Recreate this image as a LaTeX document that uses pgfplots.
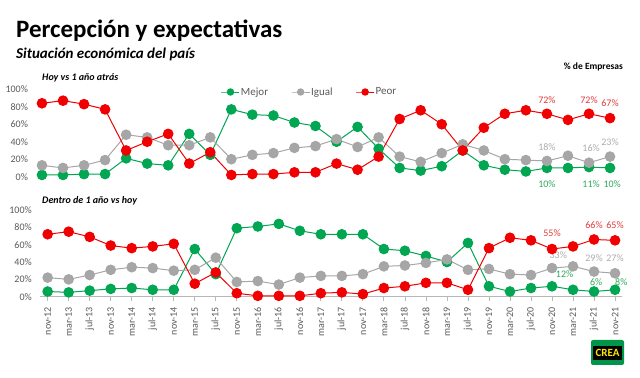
\documentclass[border=0pt]{standalone}
\usepackage{fontspec}
\setmainfont{Carlito}
\usepackage{pgfplots}
\pgfplotsset{compat=1.18}
\usepackage{pgfplotstable}
\definecolor{cgreen}{HTML}{00A651}
\definecolor{cred}{HTML}{F00000}
\definecolor{cgray}{HTML}{A6A6A6}
\definecolor{ctick}{HTML}{595959}
\definecolor{lgreen}{HTML}{2EAA5C}
\definecolor{lred}{HTML}{E03A3A}
\definecolor{lgray}{HTML}{ABABAB}

\pgfplotstableread{
x mejor igual peor
0 2 13 84
1 2 10 87
2 3 13 83
3 3 19 77
4 21 48 30
5 15 45 40
6 13 36 49
7 49 36 15
8 25 45 28
9 77 20 2
10 71 25 3
11 70 27 3
12 62 33 5
13 58 35 5
14 40 43 15
15 57 34 8
16 32 45 23
17 10 23 66
18 7 17 76
19 12 27 60
20 30 37 30
21 13 30 56
22 8 20 72
23 6 19 76
24 10 18 72
25 10 24 65
26 11 16 72
27 10 23 67
}\toptable

\pgfplotstableread{
x mejor igual peor
0 6 22 72
1 5 20 75
2 7 25 69
3 9 31 59
4 10 34 56
5 8 33 58
6 8 30 61
7 55 31 15
8 26 45 28
9 79 17 4
10 81 18 1
11 84 14 1
12 76 22 1
13 72 24 4
14 72 24 5
15 72 26 3
16 55 35 10
17 53 36 12
18 47 39 16
19 40 43 16
20 62 31 8
21 12 32 56
22 6 26 68
23 10 25 65
24 12 33 55
25 8 35 58
26 6 29 66
27 8 27 65
}\bottable

\pgfplotsset{
  panel/.style={
    scale only axis,
    xmin=-0.35, xmax=27.35, ymin=0, ymax=100,
    ytick={0,20,...,100},
    yticklabels={0\%,20\%,40\%,60\%,80\%,100\%},
    tick label style={font=\fontsize{10bp}{12bp}\selectfont, text=ctick},
    clip=false,
    axis lines=left,
    axis line style={-},
    y axis line style={draw=none},
    ytick style={draw=none},
    yticklabel style={xshift=-1bp},
  },
  sm/.style={color=cgreen, line width=1bp, mark=*, mark size=4.8bp, mark options={solid}},
  si/.style={color=cgray, line width=1bp, mark=*, mark size=4.8bp, mark options={solid}},
  sp/.style={color=cred, line width=1bp, mark=*, mark size=4.8bp, mark options={solid}},
}
\tikzset{lbl/.style={font=\fontsize{10bp}{12bp}\selectfont, inner sep=0pt, anchor=center}}

\begin{document}
\begin{tikzpicture}
\useasboundingbox (0,0) rectangle (640bp,378bp);

\node[anchor=base west, inner sep=0, font=\fontsize{25bp}{30bp}\selectfont\bfseries] at (16bp,340.7bp) {Percepción y expectativas};
\node[anchor=base west, inner sep=0, font=\fontsize{15bp}{18bp}\selectfont\bfseries\itshape] at (16bp,319bp) {Situación económica del país};
\node[anchor=base east, inner sep=0, font=\fontsize{9.5bp}{11bp}\selectfont\bfseries] at (623bp,308bp) {\% de Empresas};
\node[anchor=base west, inner sep=0, font=\fontsize{10bp}{12bp}\selectfont\bfseries\itshape] at (42bp,297bp) {Hoy vs 1 año atrás};
\node[anchor=base west, inner sep=0, font=\fontsize{10bp}{12bp}\selectfont\bfseries\itshape] at (42bp,174bp) {Dentro de 1 año vs hoy};

\begin{axis}[panel,
  at={(34.6bp,201.3bp)}, anchor=south west,
  width=582.8bp, height=87.4bp,
  xtick=\empty,
  x axis line style={draw=none},
  legend style={at={(0.471,0.969)}, anchor=center, draw=none, fill=none,
    legend columns=3, font=\fontsize{11bp}{12bp}\selectfont, text=ctick,
    /tikz/every even column/.append style={column sep=22bp},
    nodes={inner sep=1bp}},
  legend image code/.code={\draw[mark repeat=2, mark phase=2, #1, mark size=3.2bp] plot coordinates {(0bp,0bp) (9bp,0bp) (18bp,0bp)};},
]
\addplot[sm] table[x=x, y=mejor] {\toptable};
\addlegendentry{Mejor}
\addplot[si] table[x=x, y=igual] {\toptable};
\addlegendentry{Igual}
\addplot[sp] table[x=x, y=peor] {\toptable};
\addlegendentry{Peor}
\node[lbl, text=lred] at (axis cs:24,88) {72\%};
\node[lbl, text=lgray] at (axis cs:24,34) {18\%};
\node[lbl, text=lgreen] at (axis cs:24,-8) {10\%};
\node[lbl, text=lred] at (axis cs:26,88) {72\%};
\node[lbl, text=lgray] at (axis cs:26.1,32.5) {16\%};
\node[lbl, text=lgreen] at (axis cs:26.1,-8) {11\%};
\node[lbl, text=lred] at (axis cs:27,84) {67\%};
\node[lbl, text=lgray] at (axis cs:27,40) {23\%};
\node[lbl, text=lgreen] at (axis cs:27.1,-8) {10\%};
\end{axis}

\begin{axis}[panel,
  at={(40.3bp,81.3bp)}, anchor=south west,
  width=582.1bp, height=86.7bp,
  xtick={0,...,27},
  xticklabels={nov-12,mar-13,jul-13,nov-13,mar-14,jul-14,nov-14,mar-15,jul-15,nov-15,mar-16,jul-16,nov-16,mar-17,jul-17,nov-17,mar-18,jul-18,nov-18,mar-19,jul-19,nov-19,mar-20,jul-20,nov-20,mar-21,jul-21,nov-21},
  x tick label style={rotate=90, anchor=east, xshift=-3bp},
  x axis line style={draw=cgray!80, line width=0.8bp},
  xtick style={draw=cgray!80, line width=0.8bp},
  tick align=outside, major tick length=4bp,
]
\addplot[sm] table[x=x, y=mejor] {\bottable};
\addplot[si] table[x=x, y=igual] {\bottable};
\addplot[sp] table[x=x, y=peor] {\bottable};
\node[lbl, text=lred] at (axis cs:24,73) {55\%};
\node[lbl, text=lgray] at (axis cs:24.3,48) {33\%};
\node[lbl, text=lgreen] at (axis cs:24.6,26) {12\%};
\node[lbl, text=lred] at (axis cs:26,83) {66\%};
\node[lbl, text=lred] at (axis cs:27,83) {65\%};
\node[lbl, text=lgray] at (axis cs:26,44) {29\%};
\node[lbl, text=lgray] at (axis cs:27,44) {27\%};
\node[lbl, text=lgreen] at (axis cs:26.1,17) {6\%};
\node[lbl, text=lgreen] at (axis cs:27.3,17) {8\%};
\end{axis}

\fill[cgreen!90!black, rounded corners=2bp] (591bp,13bp) rectangle (624bp,38bp);
\fill[black] (593bp,18bp) rectangle (622bp,32bp);
\node[text=yellow!90!orange, inner sep=0, font=\fontsize{11bp}{12bp}\selectfont\bfseries] at (607.5bp,25bp) {CREA};
\end{tikzpicture}
\end{document}
